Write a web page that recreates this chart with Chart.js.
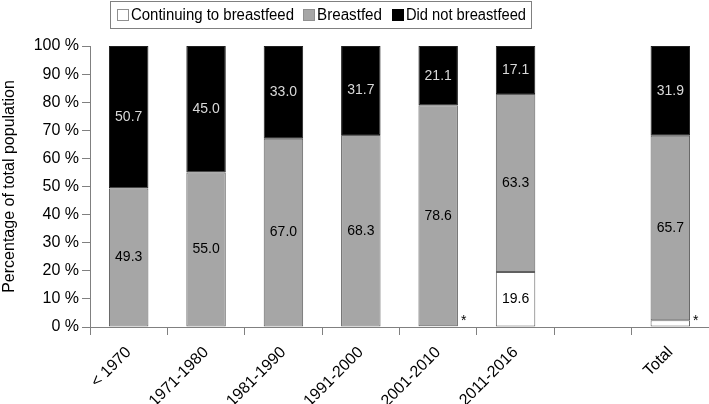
<!DOCTYPE html>
<html>
<head>
<meta charset="utf-8">
<script src="https://cdn.jsdelivr.net/npm/chart.js@4/dist/chart.umd.min.js"></script>
<style>
html,body{margin:0;padding:0;background:#fff;}
#wrap{width:709px;height:404px;position:relative;}
</style>
</head>
<body>
<div id="wrap"><canvas id="c"></canvas></div>
<script>
const categories = ['< 1970','1971-1980','1981-1990','1991-2000','2001-2010','2011-2016','','Total'];
const continuing = [0, 0, 0, 0, 0.3, 19.6, null, 2.4];
const breastfed = [49.3, 55.0, 67.0, 68.3, 78.6, 63.3, null, 65.7];
const notBreastfed = [50.7, 45.0, 33.0, 31.7, 21.1, 17.1, null, 31.9];
const seriesNames = ['Continuing to breastfeed', 'Breastfed', 'Did not breastfeed'];
const starred = [false, false, false, false, true, false, false, true];

const FONT = "'Liberation Sans', Arial, sans-serif";
const colors = ['#ffffff', '#a6a6a6', '#000000'];
const labelColors = ['#000000', '#000000', '#d9d9d9'];

const labelPlugin = {
  id: 'segLabels',
  afterDatasetsDraw(chart) {
    const ctx = chart.ctx;
    ctx.save();
    ctx.font = '14px ' + FONT;
    ctx.textAlign = 'center';
    ctx.textBaseline = 'middle';
    chart.data.datasets.forEach((ds, di) => {
      const meta = chart.getDatasetMeta(di);
      meta.data.forEach((bar, i) => {
        const v = ds.data[i];
        if (v == null || v < 5) return;
        const p = bar.getProps(['x', 'y', 'base'], true);
        ctx.fillStyle = labelColors[di];
        ctx.fillText(v.toFixed(1), p.x, (p.y + p.base) / 2);
      });
    });
    const meta0 = chart.getDatasetMeta(1);
    ctx.fillStyle = '#000';
    ctx.textAlign = 'left';
    starred.forEach((s, i) => {
      if (!s) return;
      const p = meta0.data[i].getProps(['x', 'width'], true);
      ctx.fillText('*', p.x + p.width / 2 + 3, chart.chartArea.bottom - 6);
    });
    ctx.restore();
  }
};

const legendPlugin = {
  id: 'boxLegend',
  afterDraw(chart) {
    const ctx = chart.ctx;
    ctx.save();
    ctx.strokeStyle = '#808080';
    ctx.lineWidth = 1;
    ctx.strokeRect(110.5, 1.5, 421, 27);
    ctx.font = '16px ' + FONT;
    ctx.textBaseline = 'middle';
    ctx.textAlign = 'left';
    const xs = [117, 303, 392];
    const widths = [163, 65, 120];
    const y = 15;
    seriesNames.forEach((name, i) => {
      const x = xs[i];
      ctx.fillStyle = colors[i];
      ctx.fillRect(x + 0.5, y - 5.5, 11, 11);
      ctx.strokeStyle = i === 2 ? '#000' : '#909090';
      ctx.strokeRect(x + 0.5, y - 5.5, 11, 11);
      ctx.fillStyle = '#000';
      ctx.fillText(name, x + 14, y + 1, widths[i]);
    });
    ctx.restore();
  }
};

const mk = (label, data, i) => ({
  label, data,
  backgroundColor: colors[i],
  borderColor: i === 2 ? '#202020' : '#606060',
  borderWidth: 1,
  borderSkipped: false,
  barPercentage: 0.51,
  categoryPercentage: 1.0
});

new Chart(document.getElementById('c'), {
  type: 'bar',
  data: {
    labels: categories,
    datasets: [
      mk(seriesNames[0], continuing, 0),
      mk(seriesNames[1], breastfed, 1),
      mk(seriesNames[2], notBreastfed, 2)
    ]
  },
  options: {
    responsive: true,
    maintainAspectRatio: false,
    animation: false,
    events: [],
    layout: { padding: { top: 46, right: 0, left: 0, bottom: 0 } },
    plugins: { legend: { display: false }, tooltip: { enabled: false } },
    scales: {
      x: {
        stacked: true,
        afterFit(s) { s.height = 77; },
        border: { display: true, color: '#808080' },
        grid: { display: true, drawOnChartArea: false, drawTicks: true, tickLength: 8, color: '#808080', offset: true },
        ticks: { color: '#000', font: { family: FONT, size: 16 }, minRotation: 45, maxRotation: 45, autoSkip: false, padding: 8 }
      },
      y: {
        stacked: true,
        min: 0, max: 100,
        afterFit(s) { s.width = 90; },
        border: { display: true, color: '#808080' },
        grid: { display: true, drawOnChartArea: false, drawTicks: true, tickLength: 8, color: '#808080' },
        ticks: { stepSize: 10, color: '#000', font: { family: FONT, size: 16 }, padding: 3, callback: v => v + ' %' },
        title: { display: true, text: 'Percentage of total population', color: '#000', font: { family: FONT, size: 16 }, padding: 0 }
      }
    }
  },
  plugins: [labelPlugin, legendPlugin]
});
</script>
</body>
</html>
